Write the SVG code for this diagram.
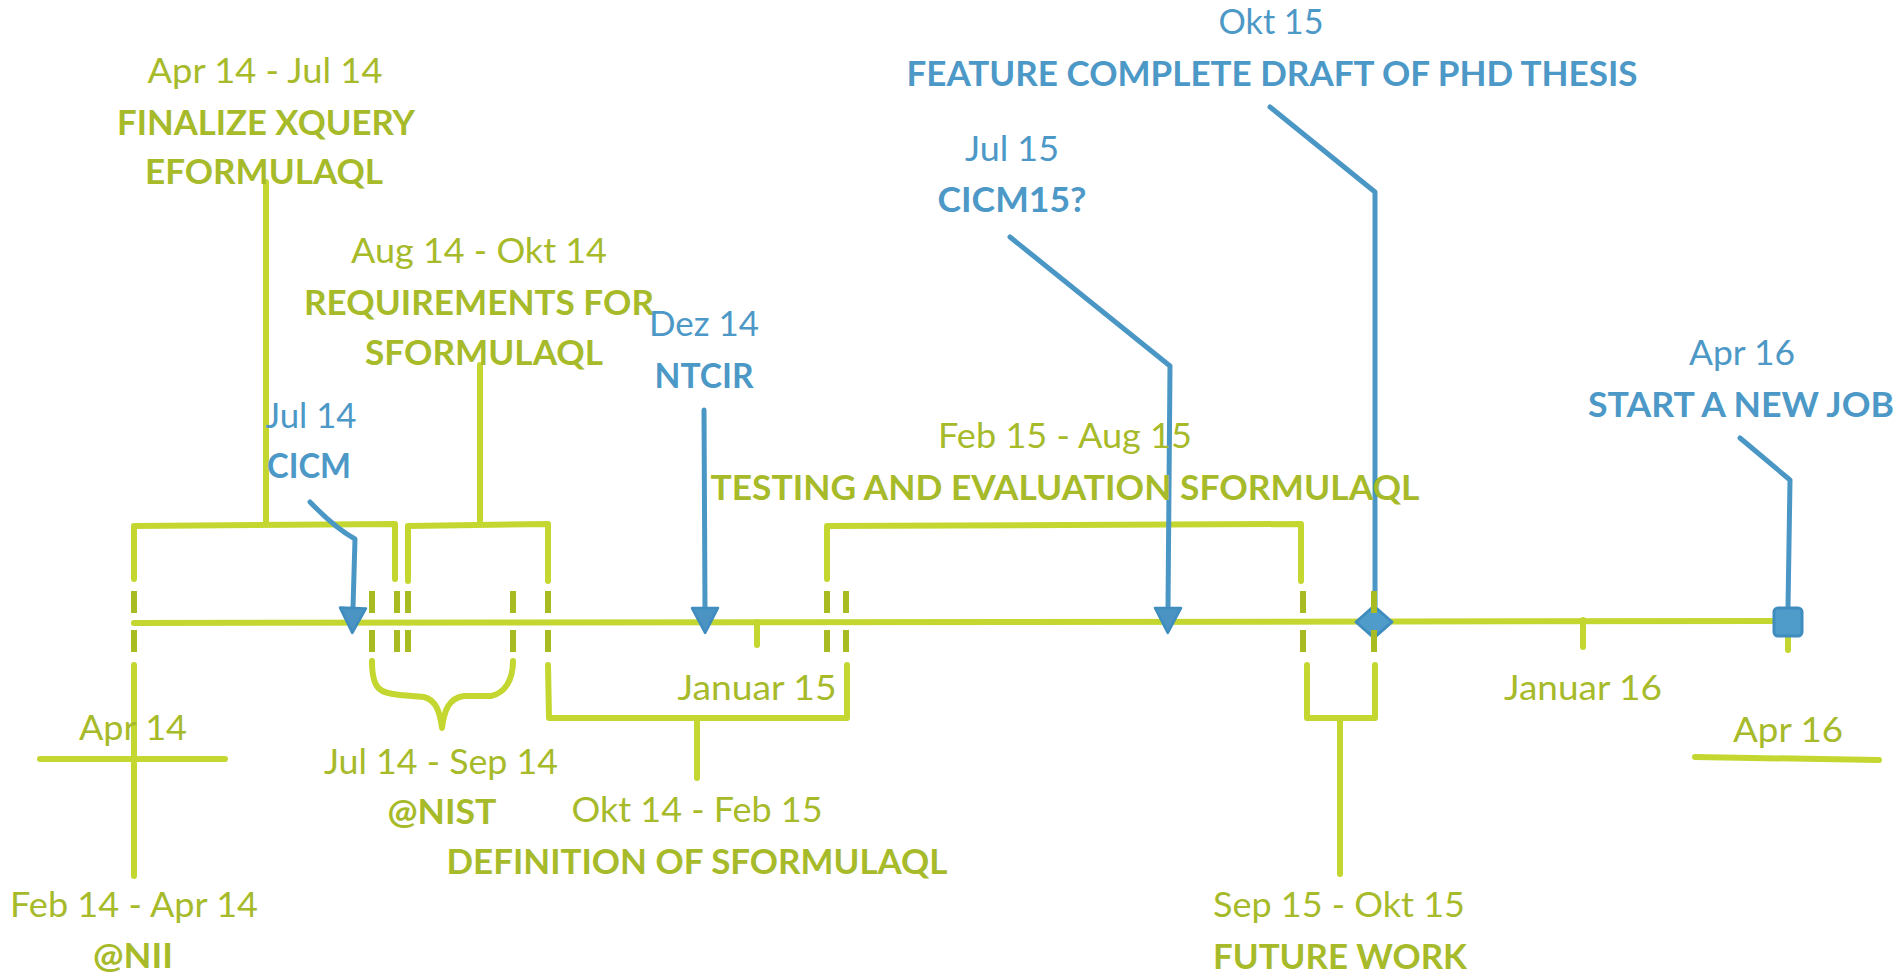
<svg xmlns="http://www.w3.org/2000/svg" width="1899" height="976" viewBox="0 0 1899 976">
<defs>
<style>
text { font-family: Lato, "Open Sans", "Liberation Sans", sans-serif; font-size: 35px; text-anchor: middle; }
.g { fill: #a6ba2a; }
.b { fill: #4c98c6; }
.bd { font-weight: 700; }
.gl { stroke: #c4d731; stroke-width: 6; fill: none; stroke-linecap: round; stroke-linejoin: round; }
.gd { stroke: #a9bb22; stroke-width: 6; fill: none; stroke-linecap: butt; }
.bl { stroke: #4a97c5; stroke-width: 5; fill: none; stroke-linecap: round; stroke-linejoin: round; }
.mk { fill: #4f9bc9; stroke: #3f8dbe; stroke-width: 3; stroke-linejoin: round; }
</style>
<marker id="arr" viewBox="-2 -15 30 30" refX="0" refY="0" markerWidth="30" markerHeight="30" markerUnits="userSpaceOnUse" orient="auto">
<path d="M0,-13 L25,0 L0,13 Z" fill="#4a93c3" stroke="#3f8dbe" stroke-width="2.5" stroke-linejoin="round"/>
</marker>
</defs>
<rect width="1899" height="976" fill="#ffffff"/>

<g id="connectors">
<path class="gl" d="M134,623 L1790,621"/>
<path class="gl" d="M134,579 L134,526 L395,524 L395,579"/>
<path class="gl" d="M266,182 L266,524"/>
<path class="gl" d="M408,581 L408,526 L548,524 L548,581"/>
<path class="gl" d="M480,365 L480,524"/>
<path class="gl" d="M134,665 L134,876"/>
<path class="gl" d="M40,759 L225,759"/>
<path class="gl" d="M372,661 C372,690 380,693 400,695 L424,697 C436,700 440,712 442,728 C444,712 448,698 464,696 L491,696 C505,693 513,680 513,661"/>
<path class="gl" d="M548,665 L549,718 L847,718 L847,665"/>
<path class="gl" d="M697,718 L697,778"/>
<path class="gl" d="M757,622 L757,645"/>
<path class="gl" d="M827,579 L827,526 L1301,524 L1301,581"/>
<path class="gl" d="M1307,665 L1307,718 L1375,718 L1375,665"/>
<path class="gl" d="M1340,718 L1340,874"/>
<path class="gl" d="M1583,620 L1583,647"/>
<path class="gl" d="M1788,622 L1788,650"/>
<path class="gl" d="M1695,757 L1879,760"/>

<path class="bl" d="M310,502 Q335,528 355,539 L353,608" marker-end="url(#arr)"/>
<path class="bl" d="M704,410 L705,608" marker-end="url(#arr)"/>
<path class="bl" d="M1010,237 L1170,366 L1168,608" marker-end="url(#arr)"/>
<path class="bl" d="M1270,107 L1375,192 L1375,606"/>
<path class="bl" d="M1740,438 L1790,480 L1788,608"/>
<path class="mk" d="M1356,622 L1374,606 L1392,622 L1374,638 Z"/>

<g class="gd">
<path d="M134,591 V613 M134,630 V652"/>
<path d="M372,591 V613 M372,630 V652"/>
<path d="M397,591 V613 M397,630 V652"/>
<path d="M408,591 V613 M408,630 V652"/>
<path d="M513,591 V613 M513,630 V652"/>
<path d="M548,591 V613 M548,630 V652"/>
<path d="M827,591 V613 M827,630 V652"/>
<path d="M846,591 V613 M846,630 V652"/>
<path d="M1303,591 V613 M1303,630 V652"/>
<path d="M1374,591 V613 M1374,630 V652"/>
</g>
<rect class="mk" x="1774" y="608" width="28" height="28" rx="4"/>
</g>

<g id="node-finalize">
<text class="g" x="265" y="83" textLength="235" lengthAdjust="spacingAndGlyphs">Apr 14 - Jul 14</text>
<text class="g bd" x="266" y="135" textLength="298" lengthAdjust="spacingAndGlyphs">FINALIZE XQUERY</text>
<text class="g bd" x="264" y="184" textLength="238" lengthAdjust="spacingAndGlyphs">EFORMULAQL</text>
</g>
<g id="node-requirements">
<text class="g" x="479" y="263" textLength="256" lengthAdjust="spacingAndGlyphs">Aug 14 - Okt 14</text>
<text class="g bd" x="479" y="315" textLength="350" lengthAdjust="spacingAndGlyphs">REQUIREMENTS FOR</text>
<text class="g bd" x="484" y="365" textLength="238" lengthAdjust="spacingAndGlyphs">SFORMULAQL</text>
</g>
<g id="node-testing">
<text class="g" x="1065" y="448" textLength="254" lengthAdjust="spacingAndGlyphs">Feb 15 - Aug 15</text>
<text class="g bd" x="1065" y="500" textLength="709" lengthAdjust="spacingAndGlyphs">TESTING AND EVALUATION SFORMULAQL</text>
</g>
<g id="node-apr14">
<text class="g" x="133" y="740" textLength="108" lengthAdjust="spacingAndGlyphs">Apr 14</text>
</g>
<g id="node-nist">
<text class="g" x="441" y="774" textLength="234" lengthAdjust="spacingAndGlyphs">Jul 14 - Sep 14</text>
<text class="g bd" x="442" y="824" textLength="109" lengthAdjust="spacingAndGlyphs">@NIST</text>
</g>
<g id="node-definition">
<text class="g" x="697" y="822" textLength="251" lengthAdjust="spacingAndGlyphs">Okt 14 - Feb 15</text>
<text class="g bd" x="697" y="874" textLength="501" lengthAdjust="spacingAndGlyphs">DEFINITION OF SFORMULAQL</text>
</g>
<g id="node-nii">
<text class="g" x="134" y="917" textLength="248" lengthAdjust="spacingAndGlyphs">Feb 14 - Apr 14</text>
<text class="g bd" x="133" y="968" textLength="80" lengthAdjust="spacingAndGlyphs">@NII</text>
</g>
<g id="node-januar15">
<text class="g" x="757" y="700" textLength="159" lengthAdjust="spacingAndGlyphs">Januar 15</text>
</g>
<g id="node-future">
<text class="g" x="1339" y="917" textLength="252" lengthAdjust="spacingAndGlyphs">Sep 15 - Okt 15</text>
<text class="g bd" x="1340" y="969" textLength="254" lengthAdjust="spacingAndGlyphs">FUTURE WORK</text>
</g>
<g id="node-januar16">
<text class="g" x="1583" y="700" textLength="158" lengthAdjust="spacingAndGlyphs">Januar 16</text>
</g>
<g id="node-apr16-end">
<text class="g" x="1788" y="742" textLength="110" lengthAdjust="spacingAndGlyphs">Apr 16</text>
</g>
<g id="node-draft">
<text class="b" x="1271" y="34" textLength="105" lengthAdjust="spacingAndGlyphs">Okt 15</text>
<text class="b bd" x="1272" y="86" textLength="731" lengthAdjust="spacingAndGlyphs">FEATURE COMPLETE DRAFT OF PHD THESIS</text>
</g>
<g id="node-cicm15">
<text class="b" x="1012" y="161" textLength="94" lengthAdjust="spacingAndGlyphs">Jul 15</text>
<text class="b bd" x="1012" y="212" textLength="149" lengthAdjust="spacingAndGlyphs">CICM15?</text>
</g>
<g id="node-ntcir">
<text class="b" x="704" y="336" textLength="110" lengthAdjust="spacingAndGlyphs">Dez 14</text>
<text class="b bd" x="704" y="388" textLength="99" lengthAdjust="spacingAndGlyphs">NTCIR</text>
</g>
<g id="node-cicm">
<text class="b" x="311" y="428" textLength="91" lengthAdjust="spacingAndGlyphs">Jul 14</text>
<text class="b bd" x="309" y="478" textLength="84" lengthAdjust="spacingAndGlyphs">CICM</text>
</g>
<g id="node-newjob">
<text class="b" x="1742" y="365" textLength="106" lengthAdjust="spacingAndGlyphs">Apr 16</text>
<text class="b bd" x="1741" y="417" textLength="306" lengthAdjust="spacingAndGlyphs">START A NEW JOB</text>
</g>
</svg>
